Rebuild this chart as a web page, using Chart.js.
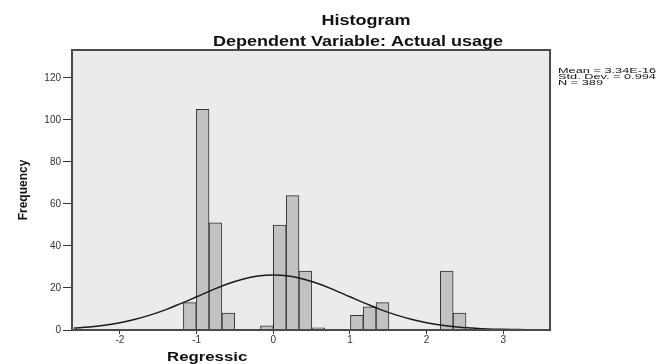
<!DOCTYPE html>
<html>
<head>
<meta charset="utf-8">
<script src="https://cdn.jsdelivr.net/npm/chart.js@4"></script>
<style>
  html, body { margin: 0; padding: 0; background: #fff; }
</style>
</head>
<body>
<canvas id="histChart" width="668" height="364"></canvas>
<script>
// residual bins (centres) and their counts
const binCenters = [-1.089, -0.922, -0.754, -0.586, -0.419, -0.251, -0.084, 0.084, 0.252, 0.419, 0.587,
    0.755, 0.922, 1.090, 1.257, 1.425, 1.592, 1.760, 1.928, 2.095, 2.263, 2.431];
const frequencies = [13, 105, 51, 8, 0, 0, 2, 50, 64, 28, 1, 0, 0, 7, 11, 13, 0, 0, 0, 0, 28, 8];

// normal curve overlay
const curveX = [-2.6, -2.4, -2.2, -2.0, -1.8, -1.6, -1.4, -1.2, -1.0, -0.8, -0.6, -0.4, -0.2, 0, 0.2, 0.4,
    0.6, 0.8, 1.0, 1.2, 1.4, 1.6, 1.8, 2.0, 2.2, 2.4, 2.6, 2.8, 3.0, 3.2, 3.4, 3.6];
const curveY = [0.9, 1.4, 2.3, 3.5, 5.1, 7.2, 9.7, 12.7, 15.8, 19.0, 21.9, 24.2, 25.7, 26.2, 25.7, 24.2,
    21.9, 19.0, 15.8, 12.7, 9.7, 7.2, 5.1, 3.5, 2.3, 1.4, 0.9, 0.5, 0.3, 0.2, 0.1, 0.0];

const xTicks = [-2, -1, 0, 1, 2, 3];
const yTicks = [0, 20, 40, 60, 80, 100, 120];

const titleLines = ["Histogram", "Dependent Variable: Actual usage"];
const statLines = ["Mean = 3.34E-16", "Std. Dev. = 0.994", "N = 389"];
const xAxisTitle = "Regressic";
const yAxisTitle = "Frequency";

function stretchText(ctx, text, x, y, sx, align) {
    ctx.save();
    ctx.translate(x, y);
    ctx.scale(sx, 1);
    ctx.textAlign = align;
    ctx.fillText(text, 0, 0);
    ctx.restore();
}

const framePlugin = {
    id: "frame",
    beforeDraw(chart) {
        const { ctx, chartArea: a } = chart;
        ctx.save();
        ctx.fillStyle = "#ebebeb";
        ctx.fillRect(a.left, a.top, a.width, a.height);
        ctx.restore();
    },
    afterDraw(chart) {
        const { ctx, chartArea: a } = chart;
        ctx.save();
        ctx.strokeStyle = "#4a4a4a";
        ctx.lineWidth = 2;
        ctx.strokeRect(a.left, a.top, a.width, a.height);

        ctx.fillStyle = "#111";
        ctx.textBaseline = "alphabetic";
        ctx.font = "bold 15px 'Liberation Sans', Arial, sans-serif";
        stretchText(ctx, titleLines[0], 366, 25, 1.2, "center");
        stretchText(ctx, titleLines[1], 358, 46, 1.2, "center");

        ctx.font = "7.5px 'Liberation Sans', Arial, sans-serif";
        statLines.forEach((s, i) => stretchText(ctx, s, 558, 72.5 + i * 6.3, 1.7, "left"));

        ctx.font = "bold 12px 'Liberation Sans', Arial, sans-serif";
        stretchText(ctx, xAxisTitle, 167, 361, 1.4, "left");
        ctx.restore();
    }
};

const ctx = document.getElementById("histChart").getContext("2d");

new Chart(ctx, {
    type: "bar",
    data: {
        datasets: [{
            type: "line",
            data: curveX.map((x, i) => ({ x, y: curveY[i] })),
            borderColor: "#1a1a1a",
            borderWidth: 1.5,
            pointRadius: 0,
            tension: 0.4,
            fill: false,
            order: 0
        }, {
            type: "bar",
            data: binCenters.map((x, i) => ({ x, y: frequencies[i] })),
            backgroundColor: "#c2c2c2",
            borderColor: "#333",
            borderWidth: 1,
            barPercentage: 1,
            categoryPercentage: 1,
            order: 1
        }]
    },
    options: {
        responsive: false,
        animation: false,
        layout: { padding: { left: 0, right: 118, top: 50, bottom: 0 } },
        plugins: {
            legend: { display: false },
            title: { display: false },
            tooltip: { enabled: false }
        },
        scales: {
            x: {
                type: "linear",
                min: -2.626,
                max: 3.61,
                offset: false,
                afterBuildTicks: s => { s.ticks = xTicks.map(v => ({ value: v })); },
                afterFit: s => { s.height = 34; },
                grid: { drawOnChartArea: false, offset: false, tickLength: 4, color: "#333" },
                border: { color: "#4a4a4a", width: 2 },
                ticks: { font: { size: 10, family: "'Liberation Sans', Arial" }, color: "#333", padding: 0 }
            },
            y: {
                min: 0,
                max: 133.3,
                afterBuildTicks: s => { s.ticks = yTicks.map(v => ({ value: v })); },
                afterFit: s => { s.width = 72; },
                grid: { drawOnChartArea: false, tickLength: 9, color: "#333" },
                border: { color: "#4a4a4a", width: 2 },
                ticks: { font: { size: 10, family: "'Liberation Sans', Arial" }, color: "#333", padding: 2 },
                title: {
                    display: true,
                    text: yAxisTitle,
                    font: { size: 12, weight: "bold", family: "'Liberation Sans', Arial" },
                    color: "#111",
                    padding: { top: 16, bottom: 0 }
                }
            }
        }
    },
    plugins: [framePlugin]
});
</script>
</body>
</html>
